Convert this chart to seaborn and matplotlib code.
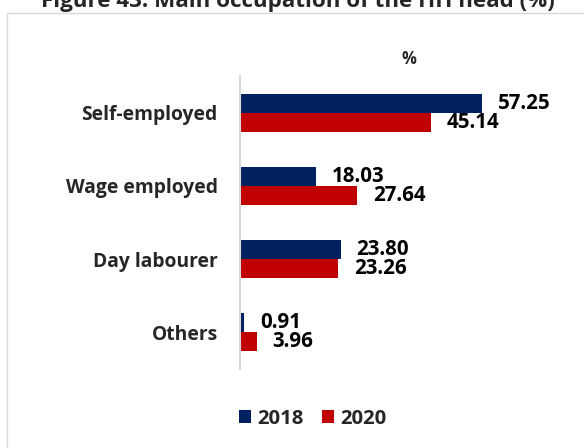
import matplotlib
matplotlib.use("Agg")
import matplotlib.pyplot as plt
from matplotlib.lines import Line2D
from matplotlib.patches import Patch
import pandas as pd
import seaborn as sns

# Main occupation of the household head, share in percent
categories = ["Self-employed", "Wage employed", "Day labourer", "Others"]
years = ["2018", "2020"]
values_2018 = [57.25, 18.03, 23.80, 0.91]
values_2020 = [45.14, 27.64, 23.26, 3.96]
colors = ["#002060", "#C00000"]

df = pd.DataFrame({
    "occupation": categories * 2,
    "year": [years[0]] * len(categories) + [years[1]] * len(categories),
    "share": values_2018 + values_2020,
})

sns.set_theme(style="white")
plt.rcParams["font.family"] = ["Open Sans", "DejaVu Sans"]
plt.rcParams["font.weight"] = "bold"

fig = plt.figure(figsize=(5.84, 4.48), dpi=100)
ax = fig.add_axes([240 / 584, 1 - 369 / 448, (578 - 240) / 584, (369 - 76) / 448])

sns.barplot(data=df, y="occupation", x="share", hue="year", order=categories,
            hue_order=years, palette=colors, width=0.52, orient="h",
            linewidth=0, saturation=1, ax=ax, legend=False)

ax.set_xlim(0, 80)
ax.set_xlabel("")
ax.set_ylabel("")
ax.set_xticks([])
ax.tick_params(axis="y", length=0, pad=16, labelsize=13.9)
for lbl in ax.get_yticklabels():
    lbl.set_fontweight("bold")
for side in ["top", "right", "bottom"]:
    ax.spines[side].set_visible(False)
ax.spines["left"].set_color("#d9d9d9")
ax.spines["left"].set_linewidth(1.5)

for container in ax.containers:
    ax.bar_label(container, fmt="%.2f", padding=11.5, fontsize=14.8,
                 fontweight="bold", color="black")

# axis unit above the plot area
ax.annotate("%", xy=(0.5, 1), xycoords="axes fraction", xytext=(0, 12.2),
            textcoords="offset points", ha="center", va="center",
            fontsize=12, fontweight="bold")

handles = [Patch(facecolor=c, edgecolor="none") for c in colors]
fig.legend(handles, years, loc="center", bbox_to_anchor=(312.5 / 584, 1 - 418.5 / 448),
           ncol=2, frameon=False, handlelength=0.6, handleheight=0.6,
           handletextpad=0.3, columnspacing=0.9, prop={"weight": "bold", "size": 14.6})

fig.text(298 / 584, 1 - 7 / 448, "Figure 43: Main occupation of the HH head (%)",
         ha="center", va="baseline", fontsize=16.1, fontweight="bold")

# chart frame
fx, fy = 7.3 / 584, 1 - 12.7 / 448
fig.add_artist(Line2D([fx, fx], [0, fy], color="#d9d9d9", lw=1.0, transform=fig.transFigure))
fig.add_artist(Line2D([fx, 1.01], [fy, fy], color="#d9d9d9", lw=1.0, transform=fig.transFigure))

fig.savefig("out.png", dpi=100)
